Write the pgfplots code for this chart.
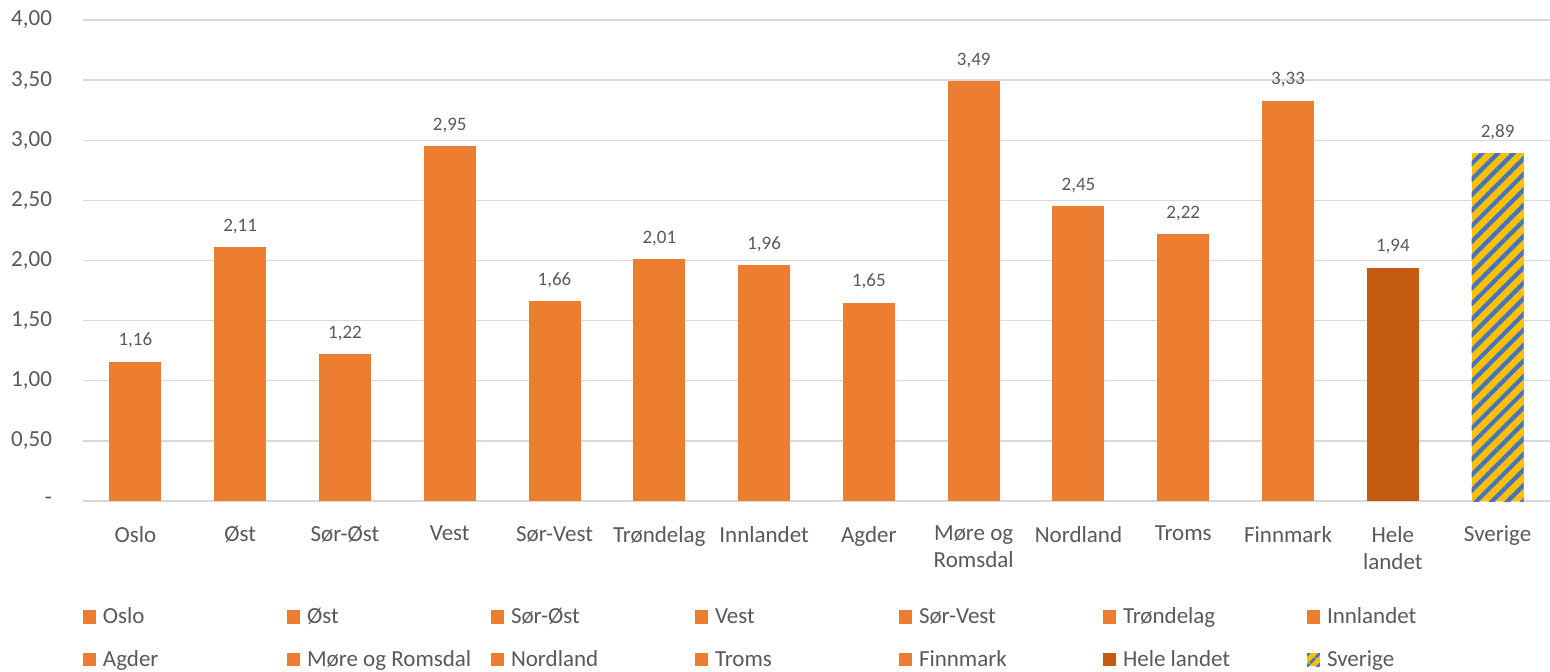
\documentclass[border=0pt]{standalone}
\usepackage{pgfplots}
\pgfplotsset{compat=1.18}
\usepackage{fontspec}
\setmainfont{Carlito}
\usetikzlibrary{patterns.meta}
\definecolor{org}{HTML}{ED7D31}
\definecolor{dorg}{HTML}{C55A11}
\definecolor{yel}{HTML}{FFC000}
\definecolor{blu}{HTML}{4472C4}
\definecolor{txt}{HTML}{595959}
\definecolor{grd}{HTML}{D9D9D9}
\newcommand\legtxt[1]{\makebox[91pt][l]{\strut #1}}
\pgfplotsset{
  catbar/.style={ybar, bar width=26pt, draw=none, fill=#1,
    legend image code/.code={\fill[#1] (0pt,-3.3pt) rectangle (6.6pt,3.3pt);}},
  svbar/.style={ybar, bar width=26pt, draw=none, preaction={fill=yel},
    pattern={Lines[angle=45,distance=5.5pt,line width=2.1pt]}, pattern color=blu,
    legend image code/.code={\path[preaction={fill=yel}, pattern={Lines[angle=45,distance=4pt,line width=1.5pt]}, pattern color=blu] (0pt,-3.3pt) rectangle (6.6pt,3.3pt);}},
}
\begin{document}
\begin{tikzpicture}
\begin{axis}[
  name=ax, at={(0,0)}, anchor=south west,
  scale only axis, width=733.5pt, height=240.5pt,
  xmin=-0.5, xmax=13.5, ymin=0, ymax=4,
  xtick={0,...,13},
  xticklabels={Oslo,Øst,Sør-Øst,Vest,Sør-Vest,Trøndelag,Innlandet,Agder,{Møre og\\Romsdal},Nordland,Troms,Finnmark,{Hele\\landet},Sverige},
  ytick={0,0.5,1,1.5,2,2.5,3,3.5,4},
  yticklabels={{-\hspace{4pt}},{0,50},{1,00},{1,50},{2,00},{2,50},{3,00},{3,50},{4,00}},
  axis line style={draw=none}, major tick length=0pt,
  ymajorgrids, grid style={grd, line width=0.7pt},
  tick label style={text=txt, font=\fontsize{11.5}{13.5}\selectfont},
  xticklabel style={align=center, anchor=north, yshift=-9pt},
  yticklabel style={anchor=east, xshift=-12pt},
  /pgf/number format/assume math mode=true,
  nodes near coords={\pgfmathprintnumber[fixed,fixed zerofill,precision=2,use comma]{\pgfplotspointmeta}},
  every node near coord/.append style={text=txt, anchor=center, yshift=10.5pt, font=\fontsize{9.5}{11}\selectfont},
  legend columns=7,
  legend style={at={(0,0)}, anchor=north west, yshift=-52pt, draw=none, fill=none,
    inner sep=0pt, outer sep=0pt, row sep=9.5pt, column sep=0pt,
    font=\fontsize{11.5}{12}\selectfont, text=txt, cells={anchor=west},
    nodes={inner sep=1pt},
    /tikz/every odd column/.append style={column sep=2.4pt}},
  clip=false,
]
\addplot[catbar=org] coordinates {(0,1.16)}; \addlegendentry{\legtxt{Oslo}}
\addplot[catbar=org] coordinates {(1,2.11)}; \addlegendentry{\legtxt{Øst}}
\addplot[catbar=org] coordinates {(2,1.22)}; \addlegendentry{\legtxt{Sør-Øst}}
\addplot[catbar=org] coordinates {(3,2.95)}; \addlegendentry{\legtxt{Vest}}
\addplot[catbar=org] coordinates {(4,1.66)}; \addlegendentry{\legtxt{Sør-Vest}}
\addplot[catbar=org] coordinates {(5,2.01)}; \addlegendentry{\legtxt{Trøndelag}}
\addplot[catbar=org] coordinates {(6,1.96)}; \addlegendentry{\legtxt{Innlandet}}
\addplot[catbar=org] coordinates {(7,1.65)}; \addlegendentry{\legtxt{Agder}}
\addplot[catbar=org] coordinates {(8,3.49)}; \addlegendentry{\legtxt{Møre og Romsdal}}
\addplot[catbar=org] coordinates {(9,2.45)}; \addlegendentry{\legtxt{Nordland}}
\addplot[catbar=org] coordinates {(10,2.22)}; \addlegendentry{\legtxt{Troms}}
\addplot[catbar=org] coordinates {(11,3.33)}; \addlegendentry{\legtxt{Finnmark}}
\addplot[catbar=dorg] coordinates {(12,1.94)}; \addlegendentry{\legtxt{Hele landet}}
\addplot[svbar] coordinates {(13,2.89)}; \addlegendentry{\legtxt{Sverige}}
\end{axis}
\pgfresetboundingbox
\path[use as bounding box] (-41.5pt,-85pt) rectangle (733.5pt,250.5pt);
\end{tikzpicture}
\end{document}
